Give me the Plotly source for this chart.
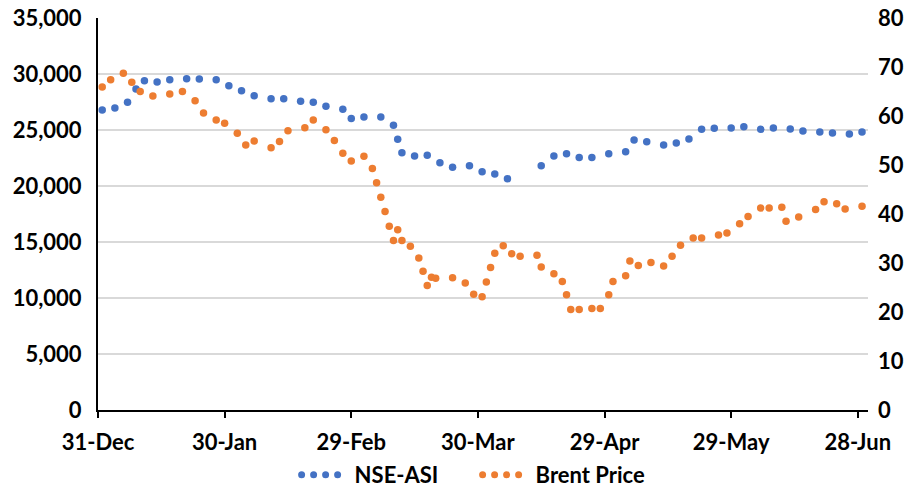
import plotly.graph_objects as go

# NSE All-Share Index (left axis)
nse_dates = [
    "2020-01-01", "2020-01-04", "2020-01-07", "2020-01-09", "2020-01-11", "2020-01-14",
    "2020-01-17", "2020-01-21", "2020-01-24", "2020-01-28", "2020-01-31", "2020-02-03",
    "2020-02-06", "2020-02-10", "2020-02-13", "2020-02-17", "2020-02-20", "2020-02-23",
    "2020-02-27", "2020-02-29", "2020-03-03", "2020-03-07", "2020-03-10", "2020-03-11",
    "2020-03-12", "2020-03-15", "2020-03-18", "2020-03-21", "2020-03-24", "2020-03-28",
    "2020-03-31", "2020-04-03", "2020-04-06", "2020-04-14", "2020-04-17", "2020-04-20",
    "2020-04-23", "2020-04-26", "2020-04-30", "2020-05-04", "2020-05-06", "2020-05-09",
    "2020-05-13", "2020-05-16", "2020-05-19", "2020-05-22", "2020-05-25", "2020-05-29",
    "2020-06-01", "2020-06-05", "2020-06-08", "2020-06-12", "2020-06-15", "2020-06-19",
    "2020-06-22", "2020-06-26", "2020-06-29",
]
nse_values = [
    26790, 26960, 27470, 28660, 29400, 29290,
    29490, 29580, 29550, 29490, 28960, 28510,
    28060, 27800, 27800, 27560, 27470, 27120,
    26850, 26030, 26160, 26160, 25430, 24180,
    22970, 22680, 22740, 22080, 21670, 21810,
    21280, 21070, 20650, 21810, 22680, 22880,
    22550, 22550, 22880, 23060, 24110, 23960,
    23660, 23840, 24200, 25060, 25150, 25180,
    25300, 25060, 25180, 25090, 24910, 24820,
    24730, 24640, 24820,
]

# Brent crude price, USD per barrel (right axis)
brent_dates = [
    "2020-01-01", "2020-01-03", "2020-01-06", "2020-01-08", "2020-01-10", "2020-01-13",
    "2020-01-17", "2020-01-20", "2020-01-23", "2020-01-25", "2020-01-28", "2020-01-30",
    "2020-02-02", "2020-02-04", "2020-02-06", "2020-02-10", "2020-02-12", "2020-02-14",
    "2020-02-18", "2020-02-20", "2020-02-23", "2020-02-25", "2020-02-27", "2020-02-29",
    "2020-03-03", "2020-03-05", "2020-03-06", "2020-03-07", "2020-03-08", "2020-03-09",
    "2020-03-10", "2020-03-11", "2020-03-12", "2020-03-14", "2020-03-16", "2020-03-17",
    "2020-03-18", "2020-03-19", "2020-03-20", "2020-03-24", "2020-03-27", "2020-03-29",
    "2020-03-31", "2020-04-01", "2020-04-02", "2020-04-03", "2020-04-05", "2020-04-07",
    "2020-04-09", "2020-04-13", "2020-04-14", "2020-04-17", "2020-04-19", "2020-04-20",
    "2020-04-21", "2020-04-23", "2020-04-26", "2020-04-28", "2020-04-30", "2020-05-01",
    "2020-05-04", "2020-05-05", "2020-05-07", "2020-05-10", "2020-05-13", "2020-05-15",
    "2020-05-17", "2020-05-20", "2020-05-22", "2020-05-26", "2020-05-28", "2020-05-31",
    "2020-06-02", "2020-06-05", "2020-06-07", "2020-06-10", "2020-06-11", "2020-06-14",
    "2020-06-18", "2020-06-20", "2020-06-23", "2020-06-25", "2020-06-29",
]
brent_values = [
    65.9, 67.4, 68.7, 66.9, 65.0, 64.1,
    64.5, 65.0, 63.1, 60.6, 59.2, 58.5,
    56.5, 54.1, 54.9, 53.5, 54.8, 57.0,
    57.6, 59.2, 57.2, 55.0, 52.4, 50.8,
    51.8, 49.3, 46.4, 43.4, 40.5, 37.5,
    34.6, 36.8, 34.6, 33.4, 31.0, 28.3,
    25.4, 27.1, 26.9, 27.0, 25.9, 23.6,
    23.1, 26.1, 29.1, 32.0, 33.5, 31.9,
    31.4, 31.6, 29.2, 27.8, 26.2, 23.5,
    20.5, 20.5, 20.7, 20.7, 23.5, 26.2,
    27.4, 30.4, 29.5, 30.1, 29.4, 31.4,
    33.6, 35.1, 35.1, 35.7, 36.1, 38.0,
    39.5, 41.2, 41.2, 41.4, 38.5, 39.4,
    40.9, 42.5, 42.1, 41.0, 41.6,
]

series_names = ["NSE-ASI", "Brent Price"]
series_colors = ["#4472C4", "#ED7D31"]

left_ticks = [0, 5000, 10000, 15000, 20000, 25000, 30000, 35000]
right_ticks = [0, 10, 20, 30, 40, 50, 60, 70, 80]

FONT = dict(family="Lato, 'Open Sans', sans-serif", size=22, color="#000000", weight="bold")
DOT = "0px,12px"

fig = go.Figure()

fig.add_trace(go.Scatter(
    x=nse_dates, y=nse_values, mode="markers", name=series_names[0],
    marker=dict(size=7.5, color=series_colors[0]), showlegend=False, yaxis="y",
))
fig.add_trace(go.Scatter(
    x=brent_dates, y=brent_values, mode="markers", name=series_names[1],
    marker=dict(size=7.5, color=series_colors[1]), showlegend=False, yaxis="y2",
))

# legend entries drawn as round-dotted lines
for name, color, ax in zip(series_names, series_colors, ["y", "y2"]):
    fig.add_trace(go.Scatter(
        x=[None], y=[None], mode="lines", name=name, yaxis=ax,
        line=dict(color=color, width=7, dash=DOT), hoverinfo="skip",
    ))

fig.update_layout(
    width=920, height=489,
    margin=dict(l=98, r=52, t=18, b=79, autoexpand=False),
    paper_bgcolor="white", plot_bgcolor="white",
    font=FONT,
    showlegend=True,
    legend=dict(
        orientation="h", x=0.493, xanchor="center",
        y=-0.166, yanchor="middle",
        font=FONT, itemwidth=48, entrywidth=118, entrywidthmode="pixels",
        itemclick=False, itemdoubleclick=False,
        bgcolor="rgba(0,0,0,0)",
    ),
    xaxis=dict(
        type="date",
        range=["2019-12-31", "2020-06-30 10:00"],
        tick0="2019-12-31", dtick=30 * 86400000,
        tickformat="%-d-%b",
        showgrid=False, zeroline=False, automargin=False,
        showline=True, linecolor="#000000", linewidth=2,
        ticks="outside", ticklen=6, tickwidth=1.5, tickcolor="#000000",
        ticklabelstandoff=6,
        tickfont=FONT,
    ),
    yaxis=dict(
        range=[0, 35000], tickvals=left_ticks, tickformat=",",
        showgrid=True, gridcolor="#D9D9D9", gridwidth=1.5, automargin=False,
        zeroline=False, showline=True, linecolor="#000000", linewidth=2,
        ticks="", ticklabelstandoff=10, tickfont=FONT,
    ),
    yaxis2=dict(
        range=[0, 80], tickvals=right_ticks, overlaying="y", side="right",
        showgrid=False, zeroline=False, showline=False, ticks="", automargin=False,
        ticklabelstandoff=9, tickfont=FONT,
    ),
)

post = """
var gd = document.getElementById('{plot_id}');
function roundDots() {
  gd.querySelectorAll('.legendlines path').forEach(function (p) {
    p.style.strokeLinecap = 'round';
  });
}
roundDots();
gd.on('plotly_afterplot', roundDots);
"""

fig.write_html("out.html", config={"displayModeBar": False}, post_script=post)
